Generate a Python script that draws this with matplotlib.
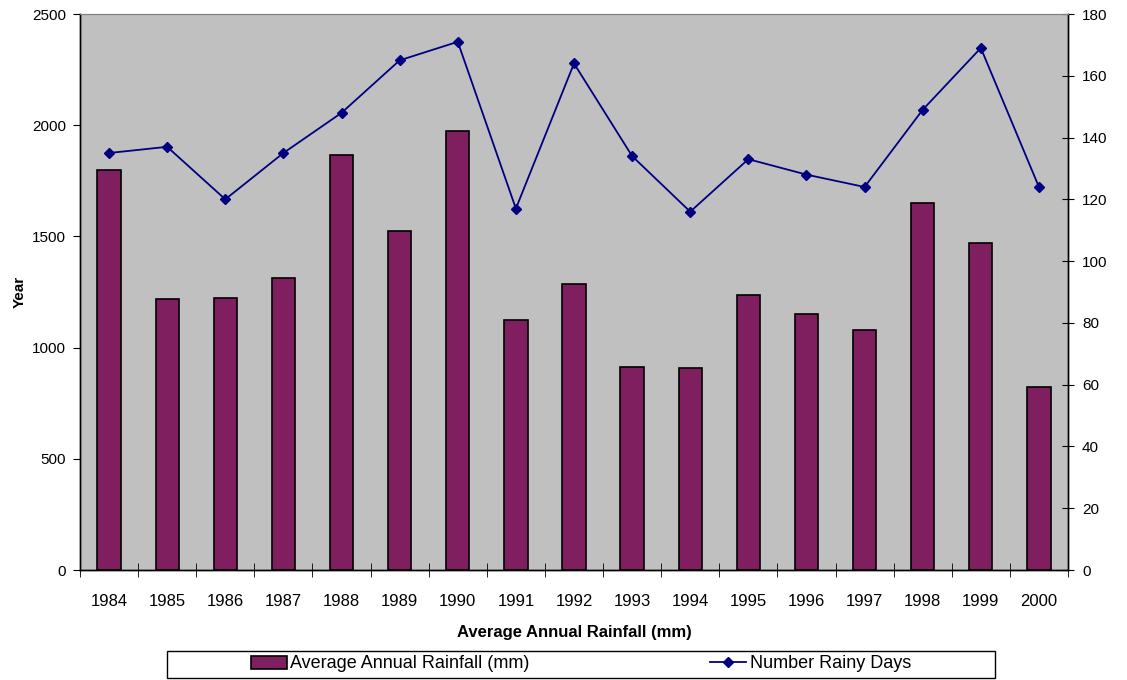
import matplotlib.pyplot as plt
import numpy as np
from matplotlib.patches import Rectangle

years = ['1984', '1985', '1986', '1987', '1988', '1989', '1990', '1991', '1992',
         '1993', '1994', '1995', '1996', '1997', '1998', '1999', '2000']
rainfall_mm = [1800, 1220, 1225, 1315, 1865, 1525, 1975, 1125, 1285,
               915, 910, 1235, 1150, 1080, 1650, 1470, 825]
rainy_days = [135, 137, 120, 135, 148, 165, 171, 117, 164,
              134, 116, 133, 128, 124, 149, 169, 124]

NARROW = ['Liberation Sans Narrow', 'Liberation Sans', 'DejaVu Sans']
plt.rcParams['font.family'] = ['Liberation Sans', 'DejaVu Sans']

fig = plt.figure(figsize=(11.27, 6.8), dpi=100)
ax = fig.add_axes([80 / 1127, 1 - 570 / 680, 988 / 1127, 556 / 680])
ax2 = ax.twinx()

x = np.arange(len(years))
ax.set_facecolor('#C0C0C0')
bars = ax.bar(x, rainfall_mm, width=0.4, color='#7F1F5F', edgecolor='black',
              linewidth=1.2, label='Average Annual Rainfall (mm)', zorder=2)
line, = ax2.plot(x, rainy_days, color='#000080', marker='D', markersize=5,
                 linewidth=1.3, label='Number Rainy Days')

ax.set_xlim(-0.5, len(years) - 0.5)
ax.set_ylim(0, 2500)
ax.set_yticks(range(0, 2501, 500))
ax2.set_ylim(0, 180)
ax2.set_yticks(range(0, 181, 20))

# year labels centred on bars, tick marks between categories
ax.set_xticks(x)
ax.set_xticklabels(years, fontsize=12)
ax.tick_params(axis='x', length=0, pad=17)
ax.set_xticks(np.arange(-0.5, len(years)), minor=True)
ax.tick_params(axis='x', which='minor', length=10, direction='inout')
ax.tick_params(axis='y', labelsize=11, length=5, direction='out', pad=5)
ax2.tick_params(axis='y', labelsize=11, length=8, direction='inout', pad=6)

for a in (ax, ax2):
    a.spines['top'].set_color('#808080')
    for s in ('left', 'right', 'bottom'):
        a.spines[s].set_linewidth(1.0)

ax.set_ylabel('Year', fontsize=11, fontweight='bold', labelpad=4)
ax.set_xlabel('Average Annual Rainfall (mm)', fontsize=12, fontweight='bold',
              family=NARROW, labelpad=12)

# legend box under the chart
fig.patches.append(Rectangle((167 / 1127, 1 - 678 / 680), 828 / 1127, 27 / 680,
                             transform=fig.transFigure, facecolor='white',
                             edgecolor='black', linewidth=1.0))
fig.legend([bars, line], ['Average Annual Rainfall (mm)', 'Number Rainy Days'],
           loc='center', bbox_to_anchor=(581 / 1127, 1 - 664 / 680), ncol=2,
           frameon=False, prop={'family': NARROW, 'size': 13},
           columnspacing=10, handlelength=2.0, handletextpad=0.2)

fig.savefig('out.png', dpi=100)
